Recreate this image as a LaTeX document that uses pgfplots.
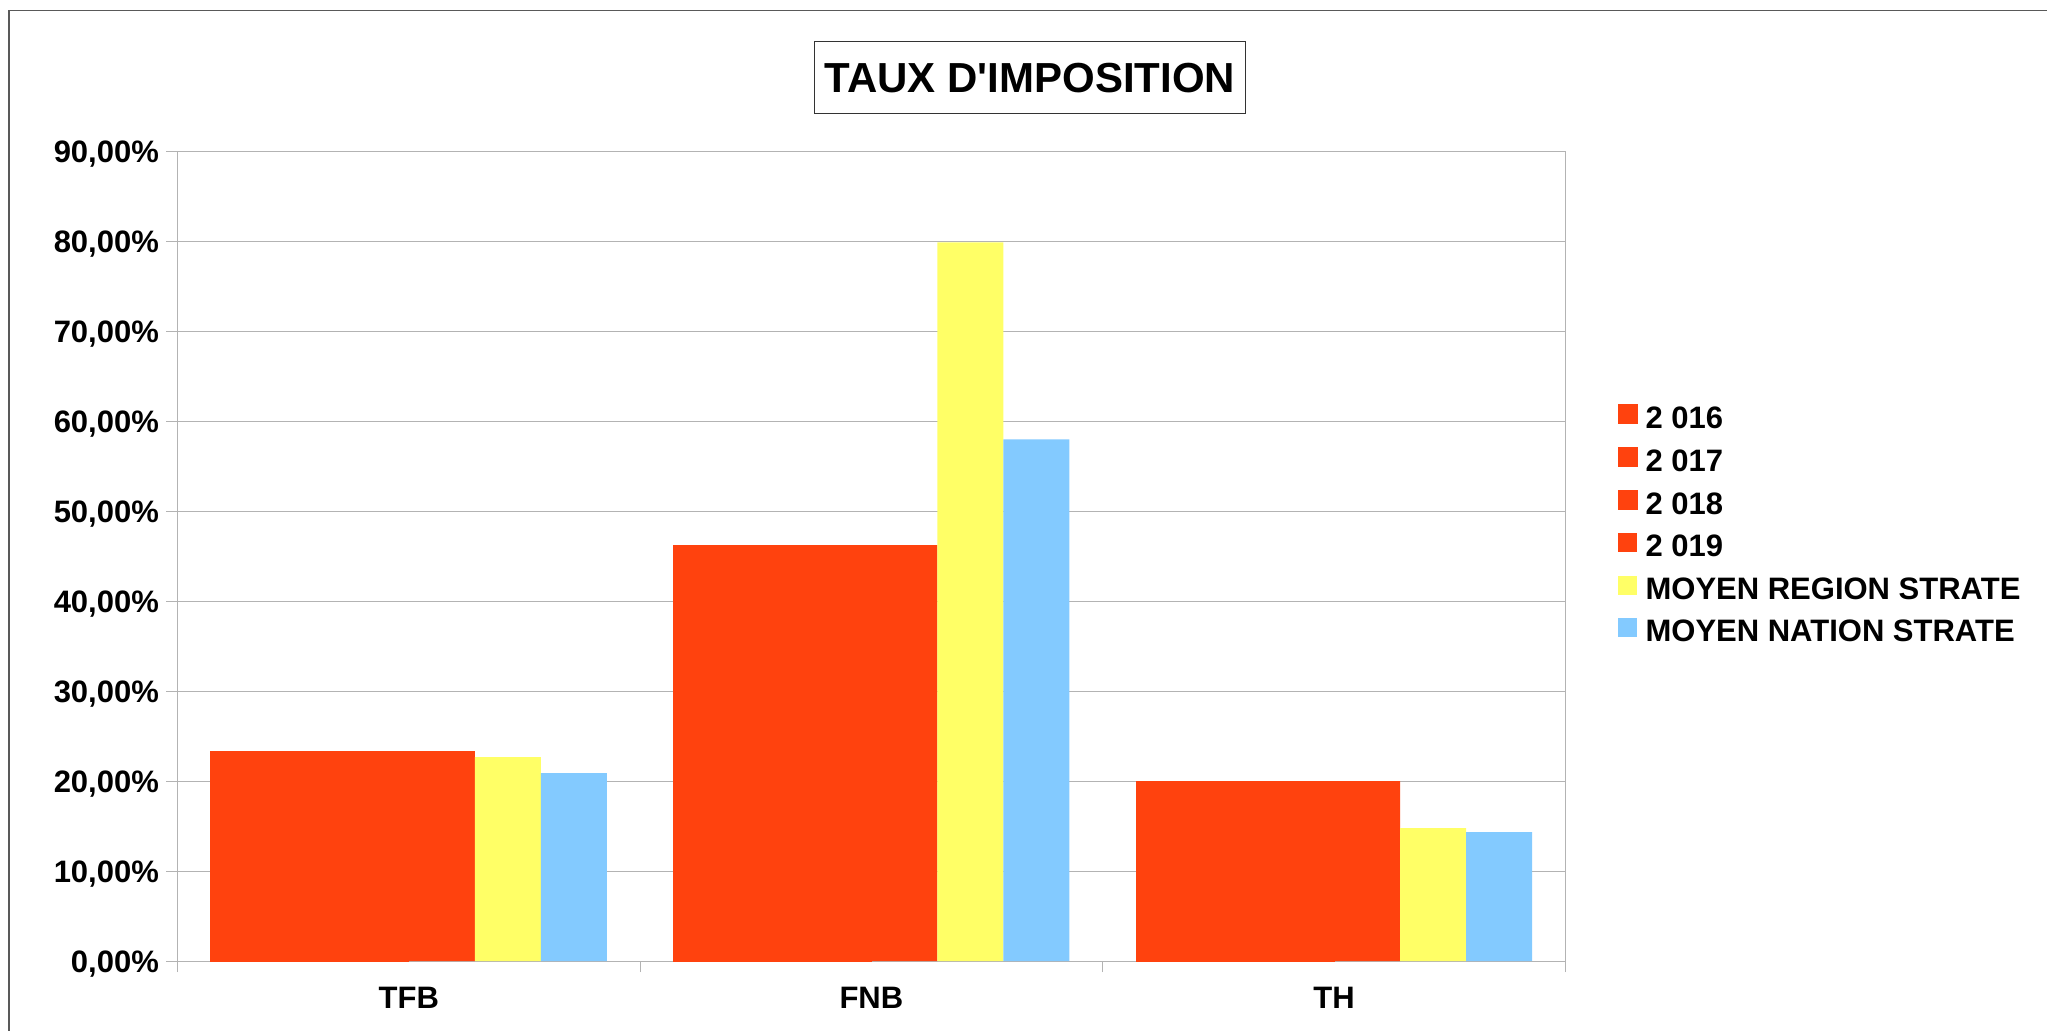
\documentclass[border=0pt]{standalone}
\usepackage{fontspec}
\setmainfont{Liberation Sans}
\newfontfamily\plainfont{Liberation Sans}
\usepackage{pgfplots}
\pgfplotsset{compat=1.18}
\definecolor{cred}{HTML}{FF420E}
\definecolor{cyel}{HTML}{FFFF66}
\definecolor{cblu}{HTML}{83CAFF}
\definecolor{cgrid}{HTML}{B3B3B3}
\newcommand{\lf}{\fontsize{15.5pt}{18pt}\selectfont\bfseries}
\begin{document}
\begin{tikzpicture}
\useasboundingbox (0,0) rectangle (1023.5pt,-515.5pt);
\fill[white] (0,0) rectangle (1023.5pt,-515.5pt);
\draw[gray!70!black, line width=0.6pt] (4.5pt,-515.5pt) -- (4.5pt,-5.35pt) -- (1023.5pt,-5.35pt);
\node[draw=gray!40!black, line width=0.5pt, minimum width=215.45pt, minimum height=35.9pt, inner sep=0pt,
  font=\plainfont\fontsize{21pt}{25pt}\selectfont\bfseries] at (515pt,-38.85pt) {TAUX D'IMPOSITION};
\begin{axis}[
  at={(88.75pt,-480.5pt)}, anchor=south west,
  scale only axis, width=693.9pt, height=404.8pt,
  xmin=-0.5, xmax=2.5, ymin=0, ymax=90,
  ybar=0pt, bar width=33pt,
  xtick={0,1,2}, xticklabels={TFB,FNB,TH},
  minor xtick={-0.5,0.5,1.5,2.5},
  ytick={0,10,...,90},
  yticklabels={{0,00\%},{10,00\%},{20,00\%},{30,00\%},{40,00\%},{50,00\%},{60,00\%},{70,00\%},{80,00\%},{90,00\%}},
  ymajorgrids, grid style={cgrid, line width=0.5pt},
  axis line style={cgrid, line width=0.5pt},
  tick align=outside, tick pos=left,
  major tick length=5.5pt, minor tick length=5.5pt,
  major x tick style={draw=none},
  minor x tick style={cgrid, line width=0.5pt},
  major y tick style={cgrid, line width=0.5pt},
  yticklabel style={font=\lf, anchor=east, inner sep=0pt, text height=11.1pt, text depth=0pt, xshift=-3.6pt},
  xticklabel style={font=\lf, anchor=north, inner sep=0pt, text height=11.1pt, text depth=0pt, yshift=-7pt},
  legend style={at={(1.0378,0.541)}, anchor=west, draw=none, fill=none, font=\lf,
    inner sep=0pt, outer sep=0pt, row sep=9.4pt,
    nodes={inner sep=0pt, text height=11.1pt, text depth=0pt},
    /tikz/every odd column/.append style={column sep=4pt}},
  legend cell align=left,
]
\addplot[fill=cred, draw=cred, line width=0.4pt, legend image code/.code={\fill[cred] (0pt,-3.2pt) rectangle (9.5pt,6.3pt);}]
  coordinates {(0,23.33) (1,46.22) (2,20.0)};
\addplot[fill=cred, draw=cred, line width=0.4pt, legend image code/.code={\fill[cred] (0pt,-3.2pt) rectangle (9.5pt,6.3pt);}]
  coordinates {(0,23.33) (1,46.22) (2,20.0)};
\addplot[fill=cred, draw=cred, line width=0.4pt, legend image code/.code={\fill[cred] (0pt,-3.2pt) rectangle (9.5pt,6.3pt);}]
  coordinates {(0,23.33) (1,46.22) (2,20.0)};
\addplot[fill=cred, draw=none, legend image code/.code={\fill[cred] (0pt,-3.2pt) rectangle (9.5pt,6.3pt);}]
  coordinates {(0,23.33) (1,46.22) (2,20.0)};
\addplot[fill=cyel, draw=none, legend image code/.code={\fill[cyel] (0pt,-3.2pt) rectangle (9.5pt,6.3pt);}]
  coordinates {(0,22.67) (1,79.9) (2,14.78)};
\addplot[fill=cblu, draw=none, legend image code/.code={\fill[cblu] (0pt,-3.2pt) rectangle (9.5pt,6.3pt);}]
  coordinates {(0,20.89) (1,58.0) (2,14.33)};
\legend{2 016, 2 017, 2 018, 2 019, MOYEN REGION STRATE, MOYEN NATION STRATE}
\end{axis}
\end{tikzpicture}
\end{document}
